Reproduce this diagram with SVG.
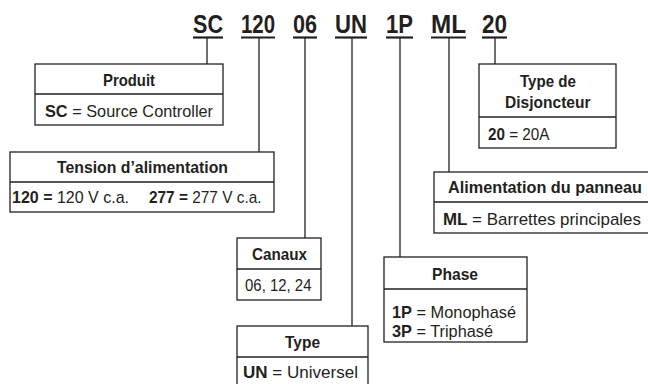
<svg xmlns="http://www.w3.org/2000/svg" width="648" height="384" viewBox="0 0 648 384">
<style>
text{font-family:"Liberation Sans",Arial,sans-serif;fill:#231f20}
.code{font-size:26px;font-weight:bold}
.h{font-size:17px;font-weight:bold}
.t{font-size:17px}
.b{font-weight:bold}
.box{fill:#fff;stroke:#231f20;stroke-width:1.3}
.ln{fill:none;stroke:#231f20;stroke-width:1.3}
.ul{stroke:#231f20;stroke-width:2.2}
</style>
<rect width="648" height="384" fill="#fff"/>
<g id="codes">
<text class="code" x="193" y="33" textLength="30" lengthAdjust="spacingAndGlyphs">SC</text>
<text class="code" x="241" y="33" textLength="34" lengthAdjust="spacingAndGlyphs">120</text>
<text class="code" x="293" y="33" textLength="24" lengthAdjust="spacingAndGlyphs">06</text>
<text class="code" x="335" y="33" textLength="32" lengthAdjust="spacingAndGlyphs">UN</text>
<text class="code" x="386" y="33" textLength="27" lengthAdjust="spacingAndGlyphs">1P</text>
<text class="code" x="431" y="33" textLength="35" lengthAdjust="spacingAndGlyphs">ML</text>
<text class="code" x="482" y="33" textLength="25" lengthAdjust="spacingAndGlyphs">20</text>
<line class="ul" x1="193" y1="37.5" x2="223" y2="37.5"/>
<line class="ul" x1="241" y1="37.5" x2="275" y2="37.5"/>
<line class="ul" x1="293" y1="37.5" x2="317" y2="37.5"/>
<line class="ul" x1="335" y1="37.5" x2="367" y2="37.5"/>
<line class="ul" x1="386" y1="37.5" x2="413" y2="37.5"/>
<line class="ul" x1="431" y1="37.5" x2="466" y2="37.5"/>
<line class="ul" x1="482" y1="37.5" x2="507" y2="37.5"/>
</g>
<g id="connectors">
<line class="ln" x1="207" y1="38" x2="207" y2="64"/>
<line class="ln" x1="259" y1="38" x2="259" y2="152"/>
<line class="ln" x1="305" y1="38" x2="305" y2="238"/>
<line class="ln" x1="352" y1="38" x2="352" y2="326"/>
<line class="ln" x1="400" y1="38" x2="400" y2="257"/>
<line class="ln" x1="449" y1="38" x2="449" y2="172"/>
<line class="ln" x1="495" y1="38" x2="495" y2="64"/>
</g>
<g id="produit">
<rect class="box" x="35" y="64" width="188" height="61"/>
<line class="ln" x1="35" y1="94" x2="223" y2="94"/>
<text class="h" x="103" y="86" textLength="52" lengthAdjust="spacingAndGlyphs">Produit</text>
<text class="t" x="45" y="117" textLength="168" lengthAdjust="spacingAndGlyphs"><tspan class="b">SC</tspan> = Source Controller</text>
</g>
<g id="tension">
<rect class="box" x="10" y="152" width="264" height="60"/>
<line class="ln" x1="10" y1="182" x2="274" y2="182"/>
<text class="h" x="57" y="173" textLength="171" lengthAdjust="spacingAndGlyphs">Tension d’alimentation</text>
<text class="t" x="12" y="203" textLength="117" lengthAdjust="spacingAndGlyphs"><tspan class="b">120 =</tspan> 120 V c.a.</text>
<text class="t" x="149" y="203" textLength="112.5" lengthAdjust="spacingAndGlyphs"><tspan class="b">277 =</tspan> 277 V c.a.</text>
</g>
<g id="disjoncteur">
<rect class="box" x="479" y="64" width="137" height="84"/>
<line class="ln" x1="479" y1="117" x2="616" y2="117"/>
<text class="h" x="520" y="87" textLength="56" lengthAdjust="spacingAndGlyphs">Type de</text>
<text class="h" x="505" y="108" textLength="85.5" lengthAdjust="spacingAndGlyphs">Disjoncteur</text>
<text class="t" x="488" y="140" textLength="61.5" lengthAdjust="spacingAndGlyphs"><tspan class="b">20</tspan> = 20A</text>
</g>
<g id="alimentation">
<rect class="box" x="434" y="172" width="222" height="61"/>
<line class="ln" x1="434" y1="202" x2="656" y2="202"/>
<text class="h" x="448" y="193" textLength="194" lengthAdjust="spacingAndGlyphs">Alimentation du panneau</text>
<text class="t" x="443" y="225" textLength="198" lengthAdjust="spacingAndGlyphs"><tspan class="b">ML</tspan> = Barrettes principales</text>
</g>
<g id="canaux">
<rect class="box" x="237" y="238" width="84" height="62"/>
<line class="ln" x1="237" y1="269" x2="321" y2="269"/>
<text class="h" x="252" y="260" textLength="55" lengthAdjust="spacingAndGlyphs">Canaux</text>
<text class="t" x="245" y="291" textLength="66.5" lengthAdjust="spacingAndGlyphs">06, 12, 24</text>
</g>
<g id="phase">
<rect class="box" x="384" y="257" width="143" height="85"/>
<line class="ln" x1="384" y1="289" x2="527" y2="289"/>
<text class="h" x="432" y="280" textLength="46" lengthAdjust="spacingAndGlyphs">Phase</text>
<text class="t" x="392" y="318" textLength="124" lengthAdjust="spacingAndGlyphs"><tspan class="b">1P</tspan> = Monophasé</text>
<text class="t" x="392" y="337" textLength="101" lengthAdjust="spacingAndGlyphs"><tspan class="b">3P</tspan> = Triphasé</text>
</g>
<g id="type">
<rect class="box" x="237" y="326" width="131" height="70"/>
<line class="ln" x1="237" y1="357" x2="368" y2="357"/>
<text class="h" x="285" y="348" textLength="35" lengthAdjust="spacingAndGlyphs">Type</text>
<text class="t" x="243" y="378" textLength="115" lengthAdjust="spacingAndGlyphs"><tspan class="b">UN</tspan> = Universel</text>
</g>
</svg>
